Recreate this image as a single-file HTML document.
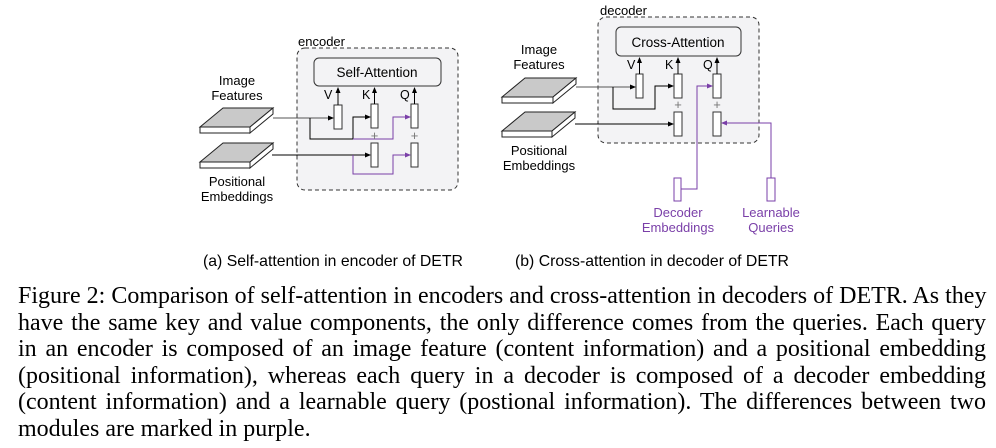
<!DOCTYPE html>
<html><head><meta charset="utf-8"><style>
body{margin:0;width:996px;height:448px;background:#fff;position:relative;overflow:hidden}
svg{position:absolute;left:0;top:0}
.cap{position:absolute;left:18px;top:283px;width:968px;font-family:"Liberation Serif",serif;font-size:24px;line-height:26.6px;color:#000}
.cap span{display:block;white-space:nowrap;text-align:justify;text-align-last:justify}
.cap span.l{text-align-last:left}
</style></head><body>
<svg width="996" height="448" viewBox="0 0 996 448" font-family="Liberation Sans, sans-serif">
<defs>
<marker id="ab" markerWidth="6" markerHeight="6" refX="5" refY="3" orient="auto" markerUnits="userSpaceOnUse"><path d="M0,0.5 L6,3 L0,5.5z" fill="#000"/></marker>
<marker id="ap" markerWidth="6" markerHeight="6" refX="5" refY="3" orient="auto" markerUnits="userSpaceOnUse"><path d="M0,0.5 L6,3 L0,5.5z" fill="#7a3fa8"/></marker>
</defs>
<!-- ENCODER -->
<rect x="297" y="48" width="161" height="142" rx="8" fill="#f3f3f5" stroke="#333" stroke-dasharray="4,3"/>
<text x="298" y="46" font-size="13">encoder</text>
<rect x="314" y="58" width="127" height="28" rx="5" fill="#f3f3f5" stroke="#333"/>
<text x="377" y="77" font-size="13.5" text-anchor="middle">Self-Attention</text>
<g fill="#fff" stroke="#333">
<rect x="334" y="105" width="8" height="24"/><rect x="371" y="104" width="7" height="24"/><rect x="411" y="104" width="7" height="24"/>
<rect x="371" y="143" width="7" height="24"/><rect x="411" y="143" width="7" height="24"/>
</g>
<g stroke="#000" fill="none">
<line x1="338" y1="105" x2="338" y2="88" marker-end="url(#ab)"/>
<line x1="374.5" y1="104" x2="374.5" y2="88" marker-end="url(#ab)"/>
<line x1="414.5" y1="104" x2="414.5" y2="88" marker-end="url(#ab)"/>
<polyline points="273,118 333,118" stroke="#555" marker-end="url(#ab)"/>
<polyline points="310,118 310,139 353,139 353,117 370,117" marker-end="url(#ab)"/>
<polyline points="272,155 370,155" marker-end="url(#ab)"/>
</g>
<g stroke="#7a3fa8" fill="none">
<polyline points="353,139 393,139 393,117 410,117" marker-end="url(#ap)"/>
<polyline points="353,155 353,174 393,174 393,155 410,155" marker-end="url(#ap)"/>
</g>
<g font-size="12.5" fill="#000">
<text x="324" y="99">V</text><text x="362" y="99">K</text><text x="400" y="99">Q</text>
</g>
<g font-size="13" fill="#777" text-anchor="middle"><text x="374.5" y="140">+</text><text x="414.5" y="140">+</text></g>
<!-- slabs -->
<g stroke="#222" stroke-width="1">
<polygon points="200,127 223,108 273,108 250,127" fill="#c9c9c9"/>
<polygon points="200,127 250,127 250,133 200,133" fill="#fff"/>
<polygon points="250,127 273,108 273,114 250,133" fill="#fff"/>
<polygon points="200,162 223,143 273,143 250,162" fill="#c9c9c9"/>
<polygon points="200,162 250,162 250,168 200,168" fill="#fff"/>
<polygon points="250,162 273,143 273,149 250,168" fill="#fff"/>
<polygon points="502,97 525,78 576,78 553,97" fill="#c9c9c9"/>
<polygon points="502,97 553,97 553,103 502,103" fill="#fff"/>
<polygon points="553,97 576,78 576,84 553,103" fill="#fff"/>
<polygon points="502,131 525,112 575,112 552,131" fill="#c9c9c9"/>
<polygon points="502,131 552,131 552,137 502,137" fill="#fff"/>
<polygon points="552,131 575,112 575,118 552,137" fill="#fff"/>
</g>
<g font-size="13" text-anchor="middle">
<text x="237" y="85">Image</text><text x="237" y="100">Features</text>
<text x="237" y="186">Positional</text><text x="237" y="201">Embeddings</text>
<text x="539" y="54">Image</text><text x="539" y="69">Features</text>
<text x="539" y="155">Positional</text><text x="539" y="170">Embeddings</text>
</g>
<!-- DECODER -->
<rect x="598" y="17" width="161" height="126" rx="8" fill="#f3f3f5" stroke="#333" stroke-dasharray="4,3"/>
<text x="600" y="15" font-size="13">decoder</text>
<rect x="616" y="27" width="125" height="29" rx="5" fill="#f3f3f5" stroke="#333"/>
<text x="678" y="47" font-size="13.5" text-anchor="middle">Cross-Attention</text>
<g fill="#fff" stroke="#333">
<rect x="636" y="74" width="7" height="24"/><rect x="674" y="74" width="8" height="24"/><rect x="713" y="74" width="8" height="24"/>
<rect x="674" y="112" width="8" height="24"/><rect x="713" y="112" width="8" height="24"/>
</g>
<g fill="#fff" stroke="#7a3fa8"><rect x="674" y="178" width="7" height="23"/><rect x="767" y="178" width="8" height="23"/></g>
<g stroke="#000" fill="none">
<line x1="639.5" y1="74" x2="639.5" y2="58" marker-end="url(#ab)"/>
<line x1="678" y1="74" x2="678" y2="58" marker-end="url(#ab)"/>
<line x1="717" y1="74" x2="717" y2="58" marker-end="url(#ab)"/>
<polyline points="576,87 635,87" stroke="#555" marker-end="url(#ab)"/>
<polyline points="613,87 613,109 655,109 655,86 673,86" marker-end="url(#ab)"/>
<polyline points="575,124 673,124" marker-end="url(#ab)"/>
</g>
<g stroke="#7a3fa8" fill="none">
<polyline points="681,189 697,189 697,86 712,86" marker-end="url(#ap)"/>
<polyline points="771,178 771,123 722,123" marker-end="url(#ap)"/>
</g>
<g font-size="12.5"><text x="627" y="69">V</text><text x="665" y="69">K</text><text x="703" y="69">Q</text></g>
<g font-size="13" fill="#777" text-anchor="middle"><text x="678" y="109">+</text><text x="717" y="109">+</text></g>
<g font-size="13" fill="#7a3fa8" text-anchor="middle">
<text x="678" y="217">Decoder</text><text x="678" y="232">Embeddings</text>
<text x="771" y="217">Learnable</text><text x="771" y="232">Queries</text>
</g>
<g font-size="15.8"><text x="203" y="266">(a) Self-attention in encoder of DETR</text><text x="515" y="266">(b) Cross-attention in decoder of DETR</text></g>
</svg>
<div class="cap">
<span>Figure 2: Comparison of self-attention in encoders and cross-attention in decoders of DETR. As they</span>
<span>have the same key and value components, the only difference comes from the queries. Each query</span>
<span>in an encoder is composed of an image feature (content information) and a positional embedding</span>
<span>(positional information), whereas each query in a decoder is composed of a decoder embedding</span>
<span>(content information) and a learnable query (postional information). The differences between two</span>
<span class="l">modules are marked in purple.</span>
</div>
</body></html>
